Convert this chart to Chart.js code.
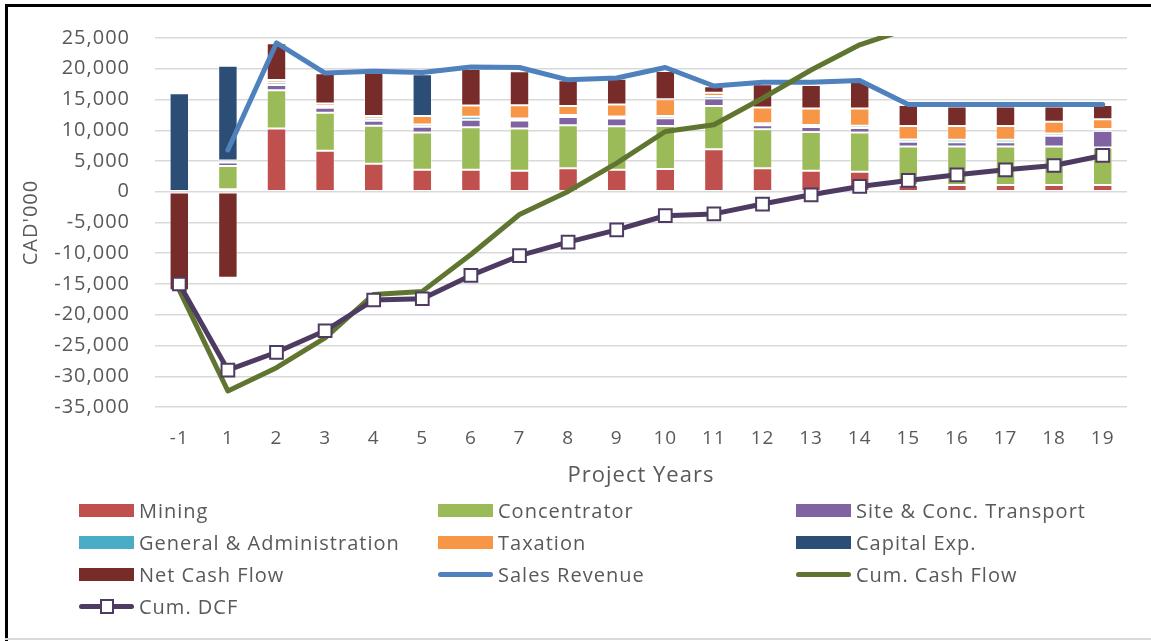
<!DOCTYPE html>
<html>
<head>
<meta charset="utf-8">
<title>Project cash flow</title>
<script src="https://cdn.jsdelivr.net/npm/chart.js@4.4.1/dist/chart.umd.min.js"></script>
<style>
  body { margin: 0; background: #fff; }
  #wrap { position: relative; width: 1151px; height: 641px; overflow: hidden; font-family: "Open Sans", sans-serif; }
  #grafico { position: absolute; left: 0; top: 0; }
  .frameTop { position: absolute; left: 5px; top: 4px; width: 1146px; height: 3px; background: #000; }
  .frameLeft { position: absolute; left: 5px; top: 4px; width: 3px; height: 637px; background: #000; }
  .frameBottom { position: absolute; left: 5px; top: 638px; width: 1146px; height: 2px; background: #d9d9d9; }
  #leyenda { position: absolute; left: 0; top: 0; }
  .item { position: absolute; height: 24px; display: flex; align-items: center; color: #595959; font-size: 20px; letter-spacing: 1px; white-space: nowrap; }
  .caja { width: 55px; height: 13px; margin-right: 5px; }
  .linea { position: relative; width: 55px; height: 5px; border-radius: 3px; margin-right: 5px; }
  .marca { position: absolute; left: 21px; top: -5px; width: 10px; height: 11px; background: #fff; border: 2px solid #4e3b62; }
</style>
</head>
<body>
<div id="wrap">
  <canvas id="grafico" width="1151" height="641"></canvas>
  <div id="leyenda"></div>
  <div class="frameTop"></div>
  <div class="frameLeft"></div>
  <div class="frameBottom"></div>
</div>
<script>
const years = ['-1', '1', '2', '3', '4', '5', '6', '7', '8', '9', '10', '11', '12', '13', '14', '15', '16', '17', '18', '19']

const mining = [0, 400, 10300, 6650, 4550, 3570, 3570, 3400, 3840, 3570, 3680, 6900, 3840, 3400, 3250, 1080, 1080, 1080, 1080, 1080]
const concentrator = [0, 3800, 6200, 6200, 6200, 6060, 6900, 6900, 6980, 7090, 7030, 7030, 6330, 6330, 6400, 6280, 6280, 6280, 6280, 6100]
const siteTransport = [0, 550, 870, 800, 800, 920, 1240, 1300, 1350, 1240, 1240, 1240, 650, 800, 700, 760, 700, 700, 1730, 2700]
const generalAdmin = [0, 350, 380, 300, 380, 380, 500, 320, 320, 320, 380, 380, 320, 320, 380, 380, 380, 380, 380, 320]
const taxation = [0, 0, 430, 400, 380, 1400, 1800, 2160, 1460, 1950, 2700, 540, 2540, 2700, 2800, 2200, 2270, 2270, 1900, 1570]
const capitalExp = [16000, 15400, 0, 0, 0, 6760, 0, 0, 0, 0, 0, 0, 0, 0, 0, 0, 0, 0, 0, 0]
const netCashFlow = [-16000, -14000, 5950, 4900, 7100, 300, 5950, 5500, 4170, 4200, 4600, 1080, 3800, 3800, 4400, 3400, 3140, 3140, 2500, 2330]

const salesRevenue = [null, 6800, 24200, 19300, 19600, 19400, 20300, 20200, 18200, 18500, 20200, 17200, 17800, 17800, 18100, 14200, 14200, 14200, 14200, 14200]
const cumCashFlow = [-16000, -32400, -28600, -23750, -16700, -16200, -10200, -3700, 50, 4650, 9800, 10900, 15200, 19800, 23900, 26500, 29600, 32700, 35200, 37500]
const cumDCF = [-15000, -29000, -26100, -22600, -17600, -17400, -13600, -10400, -8200, -6200, -3900, -3600, -2000, -500, 860, 1840, 2760, 3570, 4270, 5900]

const textColor = '#595959'

function barra(label, data, color) {
    return {
        type: 'bar',
        label: label,
        data: data,
        backgroundColor: color,
        borderColor: 'rgba(255,255,255,0.35)',
        borderWidth: 1,
        borderSkipped: false,
        categoryPercentage: 1,
        barPercentage: 0.4
    }
}

function linea(label, data, color, order, stack) {
    return {
        type: 'line',
        label: label,
        data: data,
        borderColor: color,
        backgroundColor: color,
        borderWidth: 5,
        borderCapStyle: 'round',
        borderJoinStyle: 'round',
        pointRadius: 0,
        tension: 0,
        fill: false,
        clip: 2,
        order: order,
        stack: stack
    }
}

let dcf = linea('Cum. DCF', cumDCF, '#4e3b62', -3, 'dcf')
dcf.pointRadius = 9
dcf.pointStyle = 'rect'
dcf.pointBackgroundColor = '#ffffff'
dcf.pointBorderColor = '#4e3b62'
dcf.pointBorderWidth = 2

const datasets = [
    barra('Mining', mining, '#c0504d'),
    barra('Concentrator', concentrator, '#9bbb59'),
    barra('Site & Conc. Transport', siteTransport, '#8064a2'),
    barra('General & Administration', generalAdmin, '#4bacc6'),
    barra('Taxation', taxation, '#f79646'),
    barra('Capital Exp.', capitalExp, '#2c4d75'),
    barra('Net Cash Flow', netCashFlow, '#772c2a'),
    linea('Sales Revenue', salesRevenue, '#4f81bd', -1, 'sales'),
    linea('Cum. Cash Flow', cumCashFlow, '#5f7530', -2, 'cumcf'),
    dcf
]

// the source text is a bit wider than Open Sans, so space the letters out
const espaciado = {
    id: 'espaciado',
    beforeLayout: function (chart) {
        chart.ctx.letterSpacing = '1px'
    }
}

let canvas = document.getElementById('grafico').getContext('2d')
var chart = new Chart(canvas, {
    data: {
        labels: years,
        datasets: datasets
    },
    plugins: [espaciado],
    options: {
        responsive: false,
        animation: false,
        devicePixelRatio: 1,
        layout: {
            padding: { top: 38, right: 24, bottom: 146, left: 10 }
        },
        plugins: {
            legend: { display: false },
            tooltip: { enabled: false }
        },
        scales: {
            x: {
                stacked: true,
                grid: { display: false, drawTicks: false },
                border: { display: false },
                ticks: {
                    color: textColor,
                    font: { family: 'Open Sans', size: 19 },
                    padding: 20,
                    maxRotation: 0,
                    autoSkip: false
                },
                title: {
                    display: true,
                    text: 'Project Years',
                    color: textColor,
                    font: { family: 'Open Sans', size: 22 },
                    padding: { top: 0, bottom: 6 }
                },
                afterFit: function (scale) {
                    scale.height = 88
                }
            },
            y: {
                stacked: true,
                min: -35000,
                max: 25000,
                grid: { color: '#d9d9d9', lineWidth: 1.5, drawTicks: false },
                border: { display: false },
                ticks: {
                    stepSize: 5000,
                    color: textColor,
                    font: { family: 'Open Sans', size: 20 },
                    padding: 25,
                    callback: function (v) {
                        return v.toLocaleString('en-US')
                    }
                },
                title: {
                    display: true,
                    text: "CAD'000",
                    color: textColor,
                    font: { family: 'Open Sans', size: 20 },
                    padding: { top: 9, bottom: 0 }
                },
                afterFit: function (scale) {
                    scale.width = 145
                }
            }
        }
    }
})

// legend in three columns, built from the chart datasets
const colX = [79, 438, 796]
const rowY = [498, 530, 562, 594]
let html = ''
chart.data.datasets.forEach(function (ds, i) {
    let x = colX[i % 3]
    let y = rowY[Math.floor(i / 3)]
    let simbolo
    if (ds.type === 'bar') {
        simbolo = '<span class="caja" style="background:' + ds.backgroundColor + '"></span>'
    } else if (ds.pointRadius > 0) {
        simbolo = '<span class="linea" style="background:' + ds.borderColor + '"><span class="marca"></span></span>'
    } else {
        simbolo = '<span class="linea" style="background:' + ds.borderColor + '"></span>'
    }
    html += '<div class="item" style="left:' + x + 'px;top:' + y + 'px">' + simbolo + '<span>' + ds.label + '</span></div>'
})
document.getElementById('leyenda').innerHTML = html
</script>
</body>
</html>
